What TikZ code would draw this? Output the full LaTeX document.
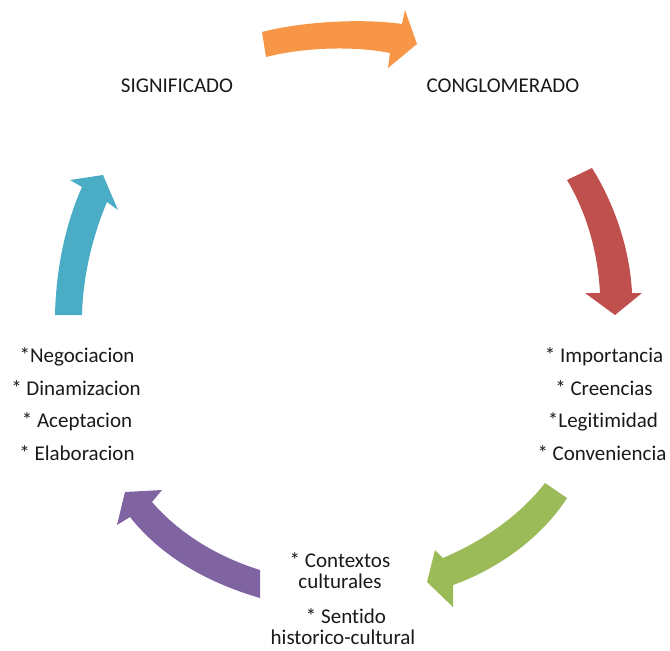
\documentclass[tikz,border=0pt]{standalone}
\usepackage{fontspec}
\setmainfont[Ligatures=NoCommon,RawFeature={-liga;-clig}]{Carlito}
\definecolor{aorange}{HTML}{F79646}
\definecolor{ared}{HTML}{C0504D}
\definecolor{agreen}{HTML}{9BBB59}
\definecolor{apurple}{HTML}{8064A2}
\definecolor{ablue}{HTML}{4BACC6}
\begin{document}
\begin{tikzpicture}[x=1pt,y=-1pt,
  lbl/.style={anchor=base,inner sep=0pt,font=\fontsize{21}{25}\selectfont,text=black!90}]
\useasboundingbox (0,0) rectangle (670,651);
% arrows
\fill[aorange] (262,32) .. controls (300,22) and (360,18) .. (402,24) -- (405,10) -- (417,44) -- (388,68) -- (390,53) .. controls (355,46) and (305,47) .. (266,57) -- cycle;
\fill[ared] (567,180) -- (592,168) .. controls (615,205) and (630,250) .. (632,293) -- (642,293) -- (615,315) -- (585,293) -- (600,293) .. controls (598,255) and (588,215) .. (567,180) -- cycle;
\fill[agreen] (545,483) .. controls (520,515) and (485,540) .. (443,558) -- (435,550) -- (427,582) -- (453,607) -- (453,585) .. controls (495,570) and (540,540) .. (567,498) -- cycle;
\fill[apurple] (260,570) .. controls (215,556) and (178,532) .. (152,502) -- (162,490) -- (125,492) -- (117,525) -- (130,517) .. controls (160,555) and (205,582) .. (260,598) -- cycle;
\fill[ablue] (55,315) .. controls (56,270) and (65,225) .. (82,187) -- (70,180) -- (103,175) -- (118,210) -- (107,202) .. controls (93,235) and (83,275) .. (82,315) -- cycle;
% labels
\node[lbl] (sig) at (177,92) {SIGNIFICADO};
\node[lbl] (con) at (503,92) {CONGLOMERADO};
\node[lbl] (r1) at (604,362) {* Importancia};
\node[lbl] (r2) at (604,395) {* Creencias};
\node[lbl] (r3) at (603,427) {*Legitimidad};
\node[lbl] (r4) at (602,460) {* Conveniencia};
\node[lbl] (l1) at (77,362) {*Negociacion};
\node[lbl] (l2) at (76,395) {* Dinamizacion};
\node[lbl] (l3) at (77,427) {* Aceptacion};
\node[lbl] (l4) at (77,460) {* Elaboracion};
\node[lbl] (b1) at (340,567) {* Contextos};
\node[lbl] (b2) at (340,588) {culturales};
\node[lbl] (b3) at (346,623) {* Sentido};
\node[lbl] (b4) at (343,644) {historico-cultural};
\end{tikzpicture}
\end{document}
